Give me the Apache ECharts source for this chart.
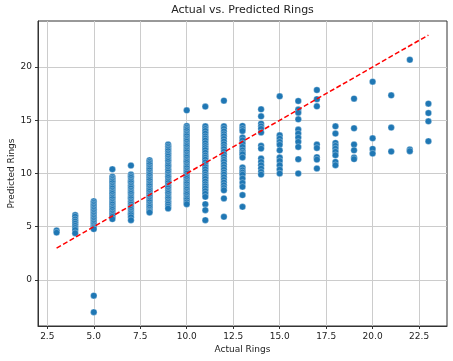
<!DOCTYPE html>
<html>
<head>
<meta charset="utf-8">
<script src="https://cdn.jsdelivr.net/npm/echarts@6/dist/echarts.min.js"></script>
<style>html,body{margin:0;padding:0;background:#fff;}#c{width:453px;height:361px;}</style>
</head>
<body>
<div id="c"></div>
<script>
// Actual ring counts (x) and predicted values per ring count (y)
const rings = [3,4,5,6,7,8,9,10,11,12,13,14,15,16,17,18,19,20,21,22,23];
const p3 = [4.65, 4.45];
const p4 = [6.1, 5.95, 5.7, 5.5, 5.3, 5.1, 4.9, 4.7, 4.4];
const p5 = [7.4, 7.25, 7.1, 6.95, 6.8, 6.65, 6.5, 6.35, 6.2, 6.05, 5.9, 5.75, 5.6, 5.45, 5.3, 5.15, 5.0, 4.9, 4.78, -1.47, -3.02];
const p6 = [10.4, 9.7, 9.55, 9.4, 9.25, 9.1, 8.9, 8.75, 8.6, 8.4, 8.25, 8.1, 7.9, 7.75, 7.6, 7.4, 7.25, 7.1, 6.9, 6.75, 6.6, 6.4, 6.25, 6.1, 5.95, 5.72];
const p7 = [10.75, 9.9, 9.75, 9.6, 9.4, 9.25, 9.1, 8.9, 8.75, 8.6, 8.4, 8.25, 8.1, 7.9, 7.75, 7.6, 7.4, 7.25, 7.1, 6.9, 6.75, 6.6, 6.4, 6.25, 6.1, 5.9, 5.62];
const p8 = [11.25, 11.1, 10.95, 10.8, 10.6, 10.45, 10.3, 10.1, 9.95, 9.8, 9.6, 9.45, 9.3, 9.1, 8.95, 8.8, 8.6, 8.45, 8.3, 8.1, 7.95, 7.8, 7.6, 7.45, 7.3, 7.1, 6.95, 6.8, 6.6, 6.45, 6.34];
const p9 = [12.72, 12.55, 12.4, 12.25, 12.1, 11.9, 11.75, 11.6, 11.4, 11.25, 11.1, 10.9, 10.75, 10.6, 10.4, 10.25, 10.1, 9.9, 9.75, 9.6, 9.4, 9.25, 9.1, 8.9, 8.75, 8.6, 8.4, 8.25, 8.1, 7.9, 7.75, 7.6, 7.4, 7.25, 7.1, 6.9, 6.72];
const p10 = [15.93, 14.46, 14.3, 14.15, 14.0, 13.8, 13.65, 13.5, 13.3, 13.15, 13.0, 12.8, 12.65, 12.5, 12.3, 12.15, 12.0, 11.8, 11.65, 11.5, 11.3, 11.15, 11.0, 10.8, 10.65, 10.5, 10.3, 10.15, 10.0, 9.8, 9.65, 9.5, 9.3, 9.15, 9.0, 8.8, 8.65, 8.5, 8.3, 8.15, 8.0, 7.8, 7.65, 7.5, 7.3, 7.12];
const p11 = [16.28, 14.43, 14.2, 14.0, 13.75, 13.5, 13.3, 13.1, 12.85, 12.6, 12.4, 12.2, 11.95, 11.7, 11.5, 11.3, 11.05, 10.8, 10.6, 10.4, 10.15, 9.9, 9.7, 9.5, 9.25, 9.0, 8.8, 8.6, 8.35, 8.1, 7.81, 7.12, 6.56, 5.62];
const p12 = [16.84, 14.43, 14.2, 13.95, 13.7, 13.5, 13.25, 13.0, 12.75, 12.5, 12.3, 12.05, 11.8, 11.55, 11.3, 11.1, 10.85, 10.6, 10.35, 10.1, 9.9, 9.65, 9.4, 9.15, 8.9, 8.65, 8.43, 7.66, 5.93];
const p13 = [14.47, 14.2, 14.0, 13.37, 13.12, 12.81, 12.5, 12.18, 11.95, 11.81, 11.5, 10.56, 10.31, 10.1, 9.9, 9.53, 9.12, 8.75, 7.97, 6.87];
const p14 = [16.03, 15.37, 14.68, 14.43, 14.2, 13.85, 12.6, 12.34, 11.4, 11.09, 10.78, 10.47, 10.15, 9.9];
const p15 = [17.25, 13.59, 13.28, 12.97, 12.7, 12.18, 11.5, 11.18, 10.78, 10.37, 10.0];
const p16 = [16.81, 16.0, 15.71, 15.09, 14.12, 13.75, 13.37, 12.97, 12.5, 11.34, 10.0];
const p17 = [17.84, 16.98, 16.31, 12.72, 12.4, 11.53, 11.31, 10.47];
const p18 = [14.43, 13.75, 12.87, 12.6, 12.34, 12.05, 11.72, 11.09, 10.78];
const p19 = [17.03, 14.25, 12.72, 12.18, 11.5, 11.35];
const p20 = [18.62, 13.31, 12.31, 11.87];
const p21 = [17.34, 14.31, 12.06];
const p22 = [20.68, 12.25, 12.1];
const p23 = [16.56, 15.68, 14.9, 13.03];
const predicted = [p3,p4,p5,p6,p7,p8,p9,p10,p11,p12,p13,p14,p15,p16,p17,p18,p19,p20,p21,p22,p23];

// Perfect-prediction reference line
const refLine = [[3, 3], [23, 23]];

// Tick labels
const xTicks = [2.5, 5.0, 7.5, 10.0, 12.5, 15.0, 17.5, 20.0, 22.5];
const yTicks = [0, 5, 10, 15, 20];

const points = [];
rings.forEach((r, i) => predicted[i].forEach(v => points.push([r, v])));

const font = 'DejaVu Sans, sans-serif';
const chart = echarts.init(document.getElementById('c'), null, {renderer: 'canvas'});
chart.setOption({
  animation: false,
  backgroundColor: '#fff',
  title: {
    text: 'Actual vs. Predicted Rings',
    left: 242.5, top: 5, textAlign: 'center', padding: 0,
    textStyle: {fontFamily: font, fontSize: 11, fontWeight: 'normal', color: '#222'}
  },
  grid: {left: 38, top: 21, width: 409, height: 305, show: true, borderColor: '#333', borderWidth: 1, backgroundColor: 'transparent', containLabel: false, outerBoundsMode: 'none'},
  xAxis: {
    type: 'value', min: 2.0, max: 24.0,
    name: 'Actual Rings', nameLocation: 'middle', nameGap: 19, nameMoveOverlap: false,
    nameTextStyle: {fontFamily: font, fontSize: 9, color: '#222'},
    axisLine: {show: true, onZero: false, lineStyle: {color: '#333', width: 1}},
    axisTick: {show: true, length: 3, inside: false, customValues: xTicks, lineStyle: {color: '#333'}},
    axisLabel: {show: true, margin: 6, fontFamily: font, fontSize: 9, color: '#222', customValues: xTicks, formatter: v => Number(v).toFixed(1)},
    splitLine: {show: true, lineStyle: {color: '#cccccc', width: 1}}
  },
  yAxis: {
    type: 'value', min: -4.32, max: 24.32,
    name: 'Predicted Rings', nameLocation: 'middle', nameGap: 22, nameMoveOverlap: false,
    nameTextStyle: {fontFamily: font, fontSize: 9, color: '#222'},
    axisLine: {show: true, onZero: false, lineStyle: {color: '#333', width: 1}},
    axisTick: {show: true, length: 3, inside: false, customValues: yTicks, lineStyle: {color: '#333'}},
    axisLabel: {show: true, margin: 6, fontFamily: font, fontSize: 9, color: '#222', customValues: yTicks, formatter: v => String(Math.round(v))},
    splitLine: {show: true, lineStyle: {color: '#cccccc', width: 1}}
  },
  series: [
    {
      type: 'scatter', data: points, symbolSize: 6.5,
      itemStyle: {color: '#1f77b4', borderColor: 'rgba(255,255,255,0.75)', borderWidth: 0.4, opacity: 1},
      z: 2
    },
    {
      type: 'line', data: refLine, symbol: 'none',
      lineStyle: {color: '#ff0000', width: 1.5, type: [5, 2.5]},
      z: 3
    }
  ]
});
</script>
</body>
</html>
